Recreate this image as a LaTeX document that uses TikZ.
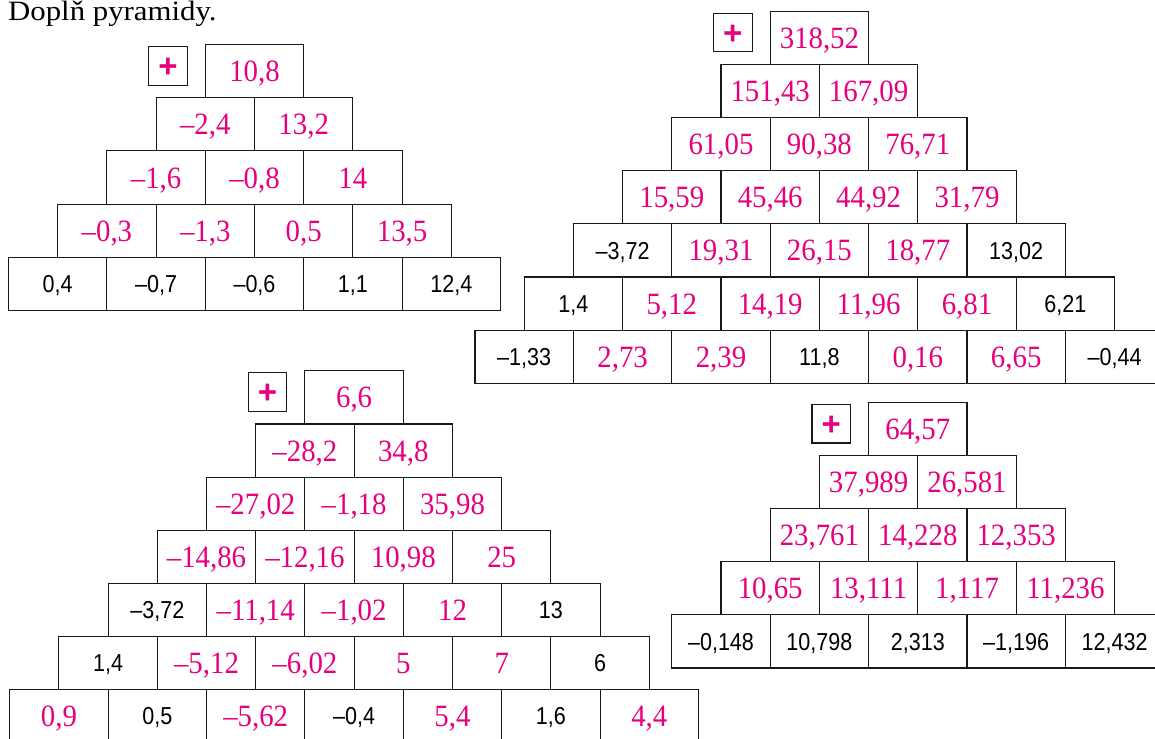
\documentclass[tikz,border=0pt]{standalone}
\usepackage{fontspec}
\setmainfont{Liberation Serif}
\newfontfamily\titlefont[FakeStretch=1.1]{Liberation Serif}
\newfontfamily\answerfont[FakeStretch=0.93]{Liberation Serif}
\newfontfamily\givenfont[FakeStretch=0.88]{Liberation Sans}
\newfontfamily\opfont{Liberation Sans}
\usetikzlibrary{positioning}
\definecolor{pyrpink}{RGB}{230,0,126}

\begin{document}
\begin{tikzpicture}[x=49.2pt, y=-53.1pt,
    brick/.style={rectangle,draw=black!90,line width=1.1pt,minimum width=98.4pt,
      minimum height=53.1pt,inner sep=0pt,text depth=0pt},
    ans/.style={text=pyrpink,font=\answerfont\fontsize{31}{31}\selectfont,text height=21pt},
    giv/.style={font=\givenfont\fontsize{24.5}{24.5}\selectfont,text height=17.5pt},
    opbox/.style={rectangle,draw=black!90,line width=1.1pt,minimum size=38.5pt,inner sep=0pt,
      text=pyrpink,font=\opfont\bfseries\fontsize{33}{33}\selectfont,text height=23pt,text depth=0pt}]
  \useasboundingbox (0pt,0pt) rectangle (1155pt,-738pt);

  \node[anchor=base west,inner sep=0pt,font=\titlefont\fontsize{28}{28}\selectfont] (title) at (8pt,-21pt) {Doplň pyramidy.};

  % pyramida vlevo nahoře
  \begin{scope}[shift={(254.5pt,-71.3pt)}]
    \node[brick,ans] (A00) at (0,0) {10,8};
    \node[brick,ans] (A10) at (-1,1) {–2,4};
    \node[brick,ans] (A11) at (1,1) {13,2};
    \node[brick,ans] (A20) at (-2,2) {–1,6};
    \node[brick,ans] (A21) at (0,2) {–0,8};
    \node[brick,ans] (A22) at (2,2) {14};
    \node[brick,ans] (A30) at (-3,3) {–0,3};
    \node[brick,ans] (A31) at (-1,3) {–1,3};
    \node[brick,ans] (A32) at (1,3) {0,5};
    \node[brick,ans] (A33) at (3,3) {13,5};
    \node[brick,giv] (A40) at (-4,4) {0,4};
    \node[brick,giv] (A41) at (-2,4) {–0,7};
    \node[brick,giv] (A42) at (0,4) {–0,6};
    \node[brick,giv] (A43) at (2,4) {1,1};
    \node[brick,giv] (A44) at (4,4) {12,4};
    \node[opbox,below left=2pt and 17pt of A00.north west] (Aop) {+};
  \end{scope}

  % pyramida vpravo nahoře
  \begin{scope}[shift={(819.4pt,-38pt)}]
    \node[brick,ans] (B00) at (0,0) {318,52};
    \node[brick,ans] (B10) at (-1,1) {151,43};
    \node[brick,ans] (B11) at (1,1) {167,09};
    \node[brick,ans] (B20) at (-2,2) {61,05};
    \node[brick,ans] (B21) at (0,2) {90,38};
    \node[brick,ans] (B22) at (2,2) {76,71};
    \node[brick,ans] (B30) at (-3,3) {15,59};
    \node[brick,ans] (B31) at (-1,3) {45,46};
    \node[brick,ans] (B32) at (1,3) {44,92};
    \node[brick,ans] (B33) at (3,3) {31,79};
    \node[brick,giv] (B40) at (-4,4) {–3,72};
    \node[brick,ans] (B41) at (-2,4) {19,31};
    \node[brick,ans] (B42) at (0,4) {26,15};
    \node[brick,ans] (B43) at (2,4) {18,77};
    \node[brick,giv] (B44) at (4,4) {13,02};
    \node[brick,giv] (B50) at (-5,5) {1,4};
    \node[brick,ans] (B51) at (-3,5) {5,12};
    \node[brick,ans] (B52) at (-1,5) {14,19};
    \node[brick,ans] (B53) at (1,5) {11,96};
    \node[brick,ans] (B54) at (3,5) {6,81};
    \node[brick,giv] (B55) at (5,5) {6,21};
    \node[brick,giv] (B60) at (-6,6) {–1,33};
    \node[brick,ans] (B61) at (-4,6) {2,73};
    \node[brick,ans] (B62) at (-2,6) {2,39};
    \node[brick,giv] (B63) at (0,6) {11,8};
    \node[brick,ans] (B64) at (2,6) {0,16};
    \node[brick,ans] (B65) at (4,6) {6,65};
    \node[brick,giv] (B66) at (6,6) {–0,44};
    \node[opbox,below left=2pt and 17pt of B00.north west] (Bop) {+};
  \end{scope}

  % pyramida vlevo dole
  \begin{scope}[shift={(354.1pt,-397.4pt)}]
    \node[brick,ans] (C00) at (0,0) {6,6};
    \node[brick,ans] (C10) at (-1,1) {–28,2};
    \node[brick,ans] (C11) at (1,1) {34,8};
    \node[brick,ans] (C20) at (-2,2) {–27,02};
    \node[brick,ans] (C21) at (0,2) {–1,18};
    \node[brick,ans] (C22) at (2,2) {35,98};
    \node[brick,ans] (C30) at (-3,3) {–14,86};
    \node[brick,ans] (C31) at (-1,3) {–12,16};
    \node[brick,ans] (C32) at (1,3) {10,98};
    \node[brick,ans] (C33) at (3,3) {25};
    \node[brick,giv] (C40) at (-4,4) {–3,72};
    \node[brick,ans] (C41) at (-2,4) {–11,14};
    \node[brick,ans] (C42) at (0,4) {–1,02};
    \node[brick,ans] (C43) at (2,4) {12};
    \node[brick,giv] (C44) at (4,4) {13};
    \node[brick,giv] (C50) at (-5,5) {1,4};
    \node[brick,ans] (C51) at (-3,5) {–5,12};
    \node[brick,ans] (C52) at (-1,5) {–6,02};
    \node[brick,ans] (C53) at (1,5) {5};
    \node[brick,ans] (C54) at (3,5) {7};
    \node[brick,giv] (C55) at (5,5) {6};
    \node[brick,ans] (C60) at (-6,6) {0,9};
    \node[brick,giv] (C61) at (-4,6) {0,5};
    \node[brick,ans] (C62) at (-2,6) {–5,62};
    \node[brick,giv] (C63) at (0,6) {–0,4};
    \node[brick,ans] (C64) at (2,6) {5,4};
    \node[brick,giv] (C65) at (4,6) {1,6};
    \node[brick,ans] (C66) at (6,6) {4,4};
    \node[opbox,below left=2pt and 17pt of C00.north west] (Cop) {+};
  \end{scope}

  % pyramida vpravo dole
  \begin{scope}[shift={(917.8pt,-429pt)}]
    \node[brick,ans] (D00) at (0,0) {64,57};
    \node[brick,ans] (D10) at (-1,1) {37,989};
    \node[brick,ans] (D11) at (1,1) {26,581};
    \node[brick,ans] (D20) at (-2,2) {23,761};
    \node[brick,ans] (D21) at (0,2) {14,228};
    \node[brick,ans] (D22) at (2,2) {12,353};
    \node[brick,ans] (D30) at (-3,3) {10,65};
    \node[brick,ans] (D31) at (-1,3) {13,111};
    \node[brick,ans] (D32) at (1,3) {1,117};
    \node[brick,ans] (D33) at (3,3) {11,236};
    \node[brick,giv] (D40) at (-4,4) {–0,148};
    \node[brick,giv] (D41) at (-2,4) {10,798};
    \node[brick,giv] (D42) at (0,4) {2,313};
    \node[brick,giv] (D43) at (2,4) {–1,196};
    \node[brick,giv] (D44) at (4,4) {12,432};
    \node[opbox,below left=2pt and 17pt of D00.north west] (Dop) {+};
  \end{scope}
\end{tikzpicture}
\end{document}
